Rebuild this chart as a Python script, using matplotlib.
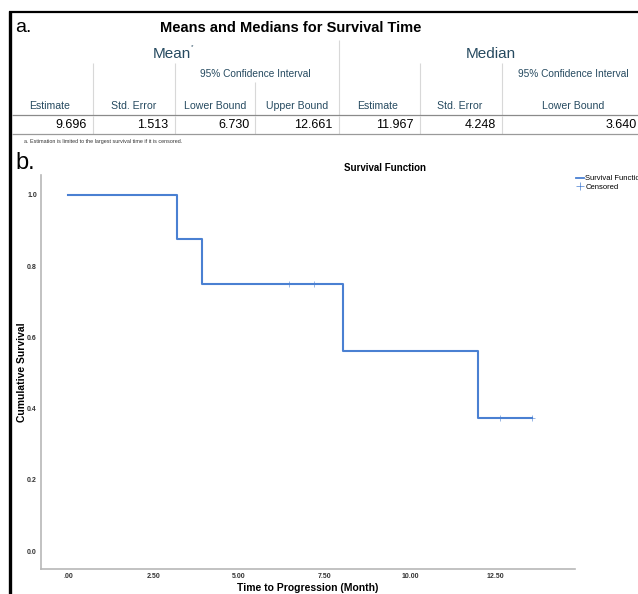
import matplotlib
matplotlib.use("Agg")
import matplotlib.pyplot as plt
from matplotlib.lines import Line2D

plt.rcParams['font.family'] = ['Liberation Sans', 'DejaVu Sans']

# ---- data ----
table_title = "Means and Medians for Survival Time"
group_labels = ["Mean", "Median"]
ci_label = "95% Confidence Interval"
col_headers = ["Estimate", "Std. Error", "Lower Bound", "Upper Bound",
               "Estimate", "Std. Error", "Lower Bound"]
col_values = ["9.696", "1.513", "6.730", "12.661", "11.967", "4.248", "3.640"]
footnote = "a. Estimation is limited to the largest survival time if it is censored."

step_times = [0.0, 3.19, 3.92, 8.04, 11.97, 13.57]
step_surv = [1.0, 0.875, 0.75, 0.5625, 0.375, 0.375]
cens_times = [6.46, 7.19, 12.63, 13.57]
cens_surv = [0.75, 0.75, 0.375, 0.375]
x_ticks = [0.0, 2.5, 5.0, 7.5, 10.0, 12.5]
x_ticklabels = [".00", "2.50", "5.00", "7.50", "10.00", "12.50"]
y_ticks = [0.0, 0.2, 0.4, 0.6, 0.8, 1.0]
y_ticklabels = ["0.0", "0.2", "0.4", "0.6", "0.8", "1.0"]

W, H = 638, 594
fig = plt.figure(figsize=(W / 100, H / 100), dpi=100)


def fx(x):
    return x / W


def fy(y):
    return 1 - y / H


def hline(x0, x1, y, color, lw):
    fig.add_artist(Line2D([fx(x0), fx(x1)], [fy(y), fy(y)], color=color, lw=lw,
                          transform=fig.transFigure, solid_capstyle='butt'))


def vline(x, y0, y1, color, lw):
    fig.add_artist(Line2D([fx(x), fx(x)], [fy(y0), fy(y1)], color=color, lw=lw,
                          transform=fig.transFigure, solid_capstyle='butt'))


# outer borders
vline(10, 11, 594, 'black', 2.4)
hline(9, 638, 12, 'black', 1.6)

# labels a. / b.
fig.text(fx(15), fy(28), "a.", fontsize=14, ha='left', va='center', color='black')
fig.text(fx(15), fy(163), "b.", fontsize=17, ha='left', va='center', color='black')

# table
hdr_col = '#264a60'
fig.text(fx(291), fy(28), table_title, fontsize=10.5, fontweight='bold',
         ha='center', va='center')
fig.text(fx(172), fy(54), group_labels[0], fontsize=11, color=hdr_col,
         ha='center', va='center')
fig.text(fx(192), fy(47), "*", fontsize=4.5, color=hdr_col, ha='center', va='center')
fig.text(fx(491), fy(54), group_labels[1], fontsize=11, color=hdr_col,
         ha='center', va='center')
fig.text(fx(255), fy(74), ci_label, fontsize=7.3, color=hdr_col, ha='center', va='center')
fig.text(fx(573), fy(74), ci_label, fontsize=7.3, color=hdr_col, ha='center', va='center')

col_centers = [50, 134, 215, 297, 378, 460, 573]
col_rights = [87, 168, 250, 332, 414, 496, 637]
for c, r, h, v in zip(col_centers, col_rights, col_headers, col_values):
    fig.text(fx(c), fy(106), h, fontsize=7.6, color=hdr_col, ha='center', va='center')
    fig.text(fx(r), fy(125), v, fontsize=9, color='black', ha='right', va='center')

grid_c = '#d8d8d8'
vline(339, 40, 115, grid_c, 0.8)
for x in [93, 175, 420, 502]:
    vline(x, 63, 115, grid_c, 0.8)
for x in [255]:
    vline(x, 82, 115, grid_c, 0.8)
for x in [93, 175, 255, 339, 420, 502]:
    vline(x, 116, 134, grid_c, 0.8)
hline(12, 638, 115, '#8a8a8a', 0.9)
hline(12, 638, 134, '#9a9a9a', 0.9)
fig.text(fx(24), fy(141), footnote, fontsize=3.9, color='#333333', ha='left', va='center')

# survival plot
ax = fig.add_axes([fx(41), fy(569), fx(575) - fx(41), fy(175) - fy(569)])
line_c = '#4a80d2'
ax.step(step_times, step_surv, where='post', color=line_c, lw=1.5)
ax.plot(cens_times, cens_surv, linestyle='none', marker='+', markersize=4,
        markeredgewidth=0.4, color=line_c)
ax.set_xlim(-0.79, 14.82)
ax.set_ylim(-0.05, 1.056)
for s in ['top', 'right']:
    ax.spines[s].set_visible(False)
for s in ['left', 'bottom']:
    ax.spines[s].set_color('#b8b8b8')
    ax.spines[s].set_linewidth(1.2)
ax.set_xticks(x_ticks)
ax.set_xticklabels(x_ticklabels)
ax.set_yticks(y_ticks)
ax.set_yticklabels(y_ticklabels)
ax.tick_params(axis='both', length=0, labelsize=5, labelcolor='#333333', pad=3)
for t in ax.get_xticklabels() + ax.get_yticklabels():
    t.set_fontweight('bold')
ax.set_xlabel("Time to Progression (Month)", fontsize=7.5, fontweight='bold', labelpad=2)
ax.set_ylabel("Cumulative Survival", fontsize=7.5, fontweight='bold', labelpad=0)

fig.text(fx(385), fy(168), "Survival Function", fontsize=7, fontweight='bold',
         ha='center', va='center')

# legend (cut at the right edge, as in the reference)
leg_handles = [Line2D([], [], color=line_c, lw=1.3, drawstyle='steps-post'),
               Line2D([], [], color=line_c, lw=0, marker='+', markersize=6,
                      markeredgewidth=0.5)]
fig.legend(leg_handles, ["Survival Function", "Censored"],
           loc='upper left', bbox_to_anchor=(fx(576), fy(175)),
           frameon=False, fontsize=5.5, handlelength=1.0, handletextpad=0.2,
           labelspacing=0.15, borderpad=0, borderaxespad=0)

fig.savefig("out.png", dpi=100)
